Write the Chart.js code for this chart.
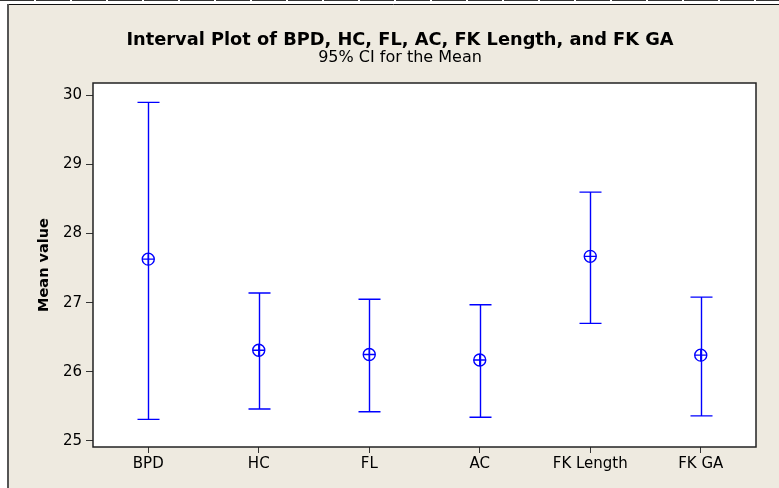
<!DOCTYPE html>
<html>
<head>
<meta charset="utf-8">
<script src="https://cdn.jsdelivr.net/npm/chart.js@4.4.0/dist/chart.umd.min.js"></script>
<style>
  html, body { margin: 0; padding: 0; background: #fff; }
  #wrap { width: 779px; height: 488px; }
</style>
</head>
<body>
<div id="wrap"><canvas id="myChart" width="779" height="488"></canvas></div>
<script>
// data
const categories = ['BPD', 'HC', 'FL', 'AC', 'FK Length', 'FK GA'];
const means = [27.63, 26.31, 26.25, 26.17, 27.67, 26.24];
const upper = [29.90, 27.14, 27.05, 26.97, 28.60, 27.08];
const lower = [25.31, 25.46, 25.42, 25.34, 26.70, 25.36];
const yTicks = [25, 26, 27, 28, 29, 30];

const BLUE = '#0000ff';
const BG = '#eeeae0';
const FONT = '"DejaVu Sans", sans-serif';

// frame, white plot box and border
const framePlugin = {
    id: 'frame',
    beforeDraw(chart) {
        const ctx = chart.ctx;
        const a = chart.chartArea;
        ctx.save();
        ctx.fillStyle = '#fff';
        ctx.fillRect(0, 0, chart.width, chart.height);
        ctx.fillStyle = BG;
        ctx.fillRect(9, 5, chart.width - 9, chart.height - 5);
        // top ruler line
        ctx.strokeStyle = '#333';
        ctx.lineWidth = 1;
        ctx.setLineDash([34, 2]);
        ctx.beginPath();
        ctx.moveTo(0, 0.5);
        ctx.lineTo(chart.width, 0.5);
        ctx.stroke();
        ctx.setLineDash([]);
        ctx.strokeStyle = '#111';
        ctx.beginPath();
        ctx.moveTo(8, 4.5);
        ctx.lineTo(chart.width, 4.5);
        ctx.stroke();
        ctx.strokeStyle = '#555';
        ctx.lineWidth = 2;
        ctx.beginPath();
        ctx.moveTo(8, 4);
        ctx.lineTo(8, chart.height);
        ctx.stroke();
        // plot area
        ctx.fillStyle = '#fff';
        ctx.fillRect(a.left, a.top, a.right - a.left, a.bottom - a.top);
        ctx.restore();
    },
    afterDatasetsDraw(chart) {
        const ctx = chart.ctx;
        const a = chart.chartArea;
        ctx.save();
        ctx.strokeStyle = '#222';
        ctx.lineWidth = 1.5;
        ctx.strokeRect(a.left, a.top, a.right - a.left, a.bottom - a.top);
        ctx.restore();
    }
};

// confidence interval whiskers
const intervalPlugin = {
    id: 'intervals',
    beforeDatasetsDraw(chart) {
        const ctx = chart.ctx;
        const xs = chart.scales.x;
        const ys = chart.scales.y;
        ctx.save();
        ctx.strokeStyle = BLUE;
        ctx.lineWidth = 1.4;
        categories.forEach((c, i) => {
            const x = Math.round(xs.getPixelForValue(i)) + 0.5;
            const yt = ys.getPixelForValue(upper[i]);
            const yb = ys.getPixelForValue(lower[i]);
            ctx.beginPath();
            ctx.moveTo(x, yt);
            ctx.lineTo(x, yb);
            ctx.moveTo(x - 11, yt);
            ctx.lineTo(x + 11, yt);
            ctx.moveTo(x - 11, yb);
            ctx.lineTo(x + 11, yb);
            ctx.stroke();
        });
        ctx.restore();
    }
};

const ctx = document.getElementById('myChart').getContext('2d');
new Chart(ctx, {
    type: 'line',
    data: {
        labels: categories,
        datasets: [
            {
                data: means,
                showLine: false,
                pointStyle: 'circle',
                pointRadius: 6,
                pointBorderColor: BLUE,
                pointBackgroundColor: 'rgba(0,0,0,0)',
                pointBorderWidth: 1.4
            },
            {
                data: means,
                showLine: false,
                pointStyle: 'cross',
                pointRadius: 6,
                pointBorderColor: BLUE,
                pointBorderWidth: 1.4
            }
        ]
    },
    options: {
        responsive: false,
        animation: false,
        events: [],
        // left padding centres the titles over x≈400 like the reference
        layout: { padding: { left: 44, right: 23, top: 0, bottom: 0 } },
        plugins: {
            legend: { display: false },
            tooltip: { enabled: false },
            title: {
                display: true,
                text: 'Interval Plot of BPD, HC, FL, AC, FK Length, and FK GA',
                color: '#000',
                font: { family: FONT, size: 17.8, weight: 'bold', lineHeight: 1 },
                padding: { top: 31, bottom: 0 }
            },
            subtitle: {
                display: true,
                text: '95% CI for the Mean',
                color: '#000',
                font: { family: FONT, size: 16, lineHeight: 1 },
                padding: { top: 1, bottom: 17.2 }
            }
        },
        scales: {
            x: {
                type: 'category',
                offset: true,
                border: { display: false },
                grid: { offset: false, drawOnChartArea: false, drawTicks: true, tickLength: 6, color: '#333' },
                ticks: { color: '#000', padding: 2, font: { family: FONT, size: 15 }, maxRotation: 0 },
                afterFit(scale) { scale.height = 41; }
            },
            y: {
                min: 24.91,
                max: 30.18,
                border: { display: false },
                grid: { drawOnChartArea: false, drawTicks: true, tickLength: 7, color: '#333' },
                ticks: { color: '#000', padding: 4, font: { family: FONT, size: 15 } },
                afterBuildTicks(scale) { scale.ticks = yTicks.map(v => ({ value: v })); },
                title: {
                    display: true,
                    text: 'Mean value',
                    color: '#000',
                    font: { family: FONT, size: 14.5, weight: 'bold', lineHeight: 1.2 },
                    padding: { top: -8.7, bottom: 0 }
                },
                afterFit(scale) { scale.width = 49; }
            }
        }
    },
    plugins: [framePlugin, intervalPlugin]
});
</script>
</body>
</html>
